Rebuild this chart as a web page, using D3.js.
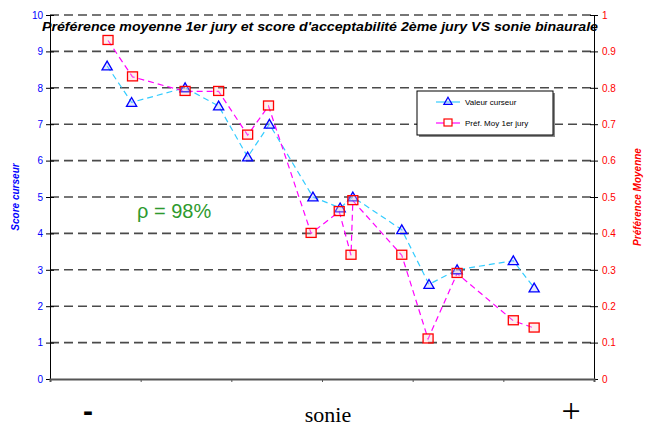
<!DOCTYPE html>
<html><head><meta charset="utf-8">
<script src="https://cdn.jsdelivr.net/npm/d3@7"></script>
<style>body{margin:0;background:#fff}svg{display:block}</style>
</head><body>
<script>
// sonie positions (arbitrary units on 0..6 axis)
const xCurseur = [0.63,0.90,1.49,1.86,2.18,2.42,2.90,3.20,3.34,3.88,4.18,4.49,5.11,5.34];
const valeurCurseur = [8.6,7.6,8.0,7.5,6.1,7.0,5.0,4.7,5.0,4.1,2.6,3.0,3.25,2.5];
const xPref = [0.64,0.91,1.49,1.86,2.18,2.41,2.88,3.19,3.32,3.34,3.88,4.17,4.49,5.11,5.34];
const prefMoy = [0.93,0.83,0.79,0.79,0.67,0.75,0.40,0.46,0.34,0.49,0.34,0.11,0.29,0.16,0.14];
const leftTicks = [0,1,2,3,4,5,6,7,8,9,10];
const rightTicks = ["0","0.1","0.2","0.3","0.4","0.5","0.6","0.7","0.8","0.9","1"];
const xTicks = [0,1,2,3,4,5,6];
const title = "Préférence moyenne 1er jury et score d'acceptabilité 2ème jury VS sonie binaurale";
const seriesNames = ["Valeur curseur","Préf. Moy 1er jury"];

const W=646,H=428;
const svg=d3.select("body").append("svg").attr("width",W).attr("height",H);
const L=50,R=594,T=15,B=379;
const x=d3.scaleLinear().domain([0,6]).range([L,R]);
const yL=d3.scaleLinear().domain([0,10]).range([B,T]);
const yR=d3.scaleLinear().domain([0,1]).range([B,T]);
const font="Liberation Sans, Arial, sans-serif";

// gridlines
svg.append("g").selectAll("line").data(leftTicks.filter(d=>d>0)).join("line")
  .attr("x1",L).attr("x2",R).attr("y1",d=>yL(d)).attr("y2",d=>yL(d))
  .attr("stroke","#4a4a4a").attr("stroke-width",1.6).attr("stroke-dasharray","9,5");

// left axis
const gl=svg.append("g").attr("transform",`translate(${L},0)`)
  .call(d3.axisLeft(yL).tickValues(leftTicks).tickSize(4).tickFormat(d3.format("d")));
gl.select(".domain").attr("stroke","#000");
gl.selectAll(".tick line").attr("stroke","#000").attr("x2",4).attr("x1",-4);
gl.selectAll(".tick text").attr("fill","#0000ff").attr("font-family",font).attr("font-size",10).attr("x",-7);

// right axis
const gr=svg.append("g").attr("transform",`translate(${R},0)`)
  .call(d3.axisRight(yR).tickValues(d3.range(11).map(i=>i/10)).tickSize(4).tickFormat((d,i)=>rightTicks[i]));
gr.select(".domain").attr("stroke","#000");
gr.selectAll(".tick line").attr("stroke","#000").attr("x1",-4).attr("x2",4);
gr.selectAll(".tick text").attr("fill","#ff0000").attr("font-family",font).attr("font-size",10).attr("x",8);

// bottom axis
const gb=svg.append("g").attr("transform",`translate(0,${B})`)
  .call(d3.axisBottom(x).tickValues(xTicks).tickSize(3).tickFormat(""));
gb.select(".domain").attr("stroke","#555").attr("stroke-width",2);
gb.selectAll(".tick line").attr("stroke","#555");

// axis titles
svg.append("text").attr("transform",`translate(19,197) rotate(-90)`).attr("text-anchor","middle")
  .attr("font-family",font).attr("font-size",10).attr("font-weight","bold").attr("font-style","italic")
  .attr("fill","#0000ff").text("Score curseur");
svg.append("text").attr("transform",`translate(641,197) rotate(-90)`).attr("text-anchor","middle")
  .attr("font-family",font).attr("font-size",10).attr("font-weight","bold").attr("font-style","italic")
  .attr("fill","#ff0000").text("Préférence Moyenne");

// title
svg.append("text").attr("x",320).attr("y",31).attr("text-anchor","middle")
  .attr("font-family",font).attr("font-size",12.5).attr("font-weight","bold").attr("font-style","italic")
  .attr("textLength",556).attr("lengthAdjust","spacingAndGlyphs")
  .attr("fill","#000").text(title);

// lines
const d1=xCurseur.map((v,i)=>[v,valeurCurseur[i]]);
const d2=xPref.map((v,i)=>[v,prefMoy[i]]);
svg.append("path").datum(d1).attr("fill","none").attr("stroke","#33ccff").attr("stroke-width",1.2)
  .attr("stroke-dasharray","6,4").attr("d",d3.line().x(d=>x(d[0])).y(d=>yL(d[1])));
svg.append("path").datum(d2).attr("fill","none").attr("stroke","#ff00ff").attr("stroke-width",1.2)
  .attr("stroke-dasharray","6,4").attr("d",d3.line().x(d=>x(d[0])).y(d=>yR(d[1])));

const tri=d3.symbol().type(d3.symbolTriangle).size(45);
svg.append("g").selectAll("path").data(d1).join("path").attr("d",tri)
  .attr("transform",d=>`translate(${x(d[0])},${yL(d[1])+1})`)
  .attr("fill","rgba(180,190,255,0.35)").attr("stroke","#0000ff").attr("stroke-width",1.3);
svg.append("g").selectAll("rect").data(d2).join("rect")
  .attr("x",d=>x(d[0])-5).attr("y",d=>yR(d[1])-5).attr("width",10).attr("height",9)
  .attr("fill","rgba(255,200,200,0.3)").attr("stroke","#ff0000").attr("stroke-width",1.3);

// legend
const lg=svg.append("g");
lg.append("rect").attr("x",419).attr("y",93).attr("width",136).attr("height",44).attr("fill","#888");
lg.append("rect").attr("x",417).attr("y",91).attr("width",136).attr("height",44).attr("fill","#fff").attr("stroke","#000");
[[102,"#33ccff",0],[123,"#ff00ff",1]].forEach(([yy,c,i])=>{
  lg.append("line").attr("x1",436).attr("x2",460).attr("y1",yy).attr("y2",yy).attr("stroke",c).attr("stroke-width",1.2);
  if(i===0) lg.append("path").attr("d",d3.symbol().type(d3.symbolTriangle).size(30)).attr("transform",`translate(448,${yy})`)
     .attr("fill","rgba(180,190,255,0.35)").attr("stroke","#0000ff").attr("stroke-width",1.2);
  else lg.append("rect").attr("x",444).attr("y",yy-4).attr("width",8).attr("height",7).attr("fill","#fff").attr("stroke","#ff0000").attr("stroke-width",1.2);
  lg.append("text").attr("x",465).attr("y",yy+3).attr("font-family",font).attr("font-size",8).attr("fill","#000").text(seriesNames[i]);
});

// rho annotation
svg.append("text").attr("x",137).attr("y",218).attr("font-family",font).attr("font-size",20)
  .attr("fill","#2e9a2e").text("ρ = 98%");

// bottom labels
svg.append("text").attr("x",88).attr("y",421).attr("text-anchor","middle").attr("font-family",font)
  .attr("font-size",30).attr("font-weight","bold").attr("fill","#000").text("-");
svg.append("text").attr("x",328).attr("y",422).attr("text-anchor","middle").attr("font-family","Liberation Serif, Times New Roman, serif")
  .attr("font-size",22).attr("fill","#000").text("sonie");
svg.append("text").attr("x",571).attr("y",422).attr("text-anchor","middle").attr("font-family","Liberation Serif, Times New Roman, serif")
  .attr("font-size",34).attr("fill","#000").text("+");
</script>
</body></html>
